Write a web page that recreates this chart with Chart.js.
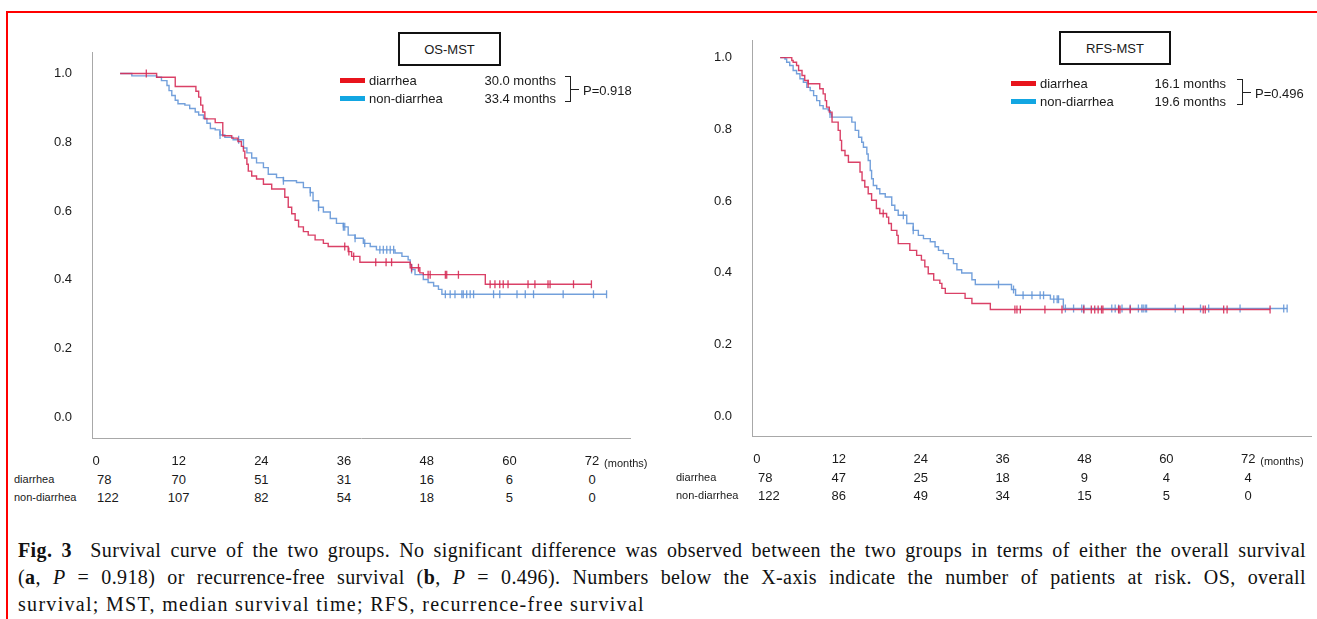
<!DOCTYPE html>
<html>
<head>
<meta charset="utf-8">
<script src="https://cdn.jsdelivr.net/npm/chart.js@4.4.1/dist/chart.umd.min.js"></script>
<style>
  html, body { margin: 0; padding: 0; background: #fff; }
  body { width: 1317px; height: 619px; position: relative; overflow: hidden; font-family: "Liberation Sans", Arial, sans-serif; color: #1a1a1a; }
  #frame { position: absolute; left: 6px; top: 11px; width: 1400px; height: 700px; border: 2px solid #ff0000; box-sizing: border-box; }
  canvas { position: absolute; }
  #os { left: 20px; top: 25px; }
  #rfs { left: 680px; top: 13px; }
  .t { position: absolute; white-space: nowrap; }
  .box { position: absolute; border: 2px solid #111; box-sizing: border-box; font-size: 13px; display: flex; align-items: center; justify-content: center; background: #fff; }
  .sw { position: absolute; height: 5px; width: 25px; }
  .br { position: absolute; width: 6px; border: 1px solid #222; border-left: none; box-sizing: border-box; }
  .brt { position: absolute; height: 1px; width: 8px; background: #222; }
  #caption { position: absolute; left: 18px; top: 537px; width: 1288px; font-family: "Liberation Serif", "Times New Roman", serif; font-size: 20px; line-height: 27px; color: #111; }
  #caption div { text-align: justify; text-align-last: justify; white-space: nowrap; letter-spacing: 0.4px; }
  #caption div.last { text-align-last: left; letter-spacing: 1.3px; }
</style>
</head>
<body>
<div id="frame"></div>
<canvas id="os" width="630" height="445"></canvas>
<canvas id="rfs" width="637" height="455"></canvas>
<div id="caption">
  <div><b>Fig. 3</b>&nbsp; Survival curve of the two groups. No significant difference was observed between the two groups in terms of either the overall survival</div>
  <div>(<b>a</b>, <i>P</i> = 0.918) or recurrence-free survival (<b>b</b>, <i>P</i> = 0.496). Numbers below the X-axis indicate the number of patients at risk. OS, overall</div>
  <div class="last">survival; MST, median survival time; RFS, recurrence-free survival</div>
</div>
<script>
// ---- data ----
const MONTH_TICKS = [0, 12, 24, 36, 48, 60, 72];
const SURV_TICKS = [0, 0.2, 0.4, 0.6, 0.8, 1.0];
const GROUPS = ['diarrhea', 'non-diarrhea'];

// overall survival (a)
const OS_RED_T = [3.5, 8.8, 11.5, 14.5, 14.9, 15.2, 15.5, 15.8, 17.3, 18.4, 19.7, 20.6, 21.1, 21.4, 21.6, 21.9, 22.1, 22.6, 23.3, 24.3, 25.5, 27.4, 27.9, 28.4, 28.9, 29.4, 30.1, 30.8, 31.8, 33.0, 33.7, 36.6, 37.1, 38.3, 45.6, 47.0, 47.5, 56.5, 71.9];
const OS_RED_S = [1.0, 0.989, 0.962, 0.948, 0.931, 0.908, 0.888, 0.868, 0.857, 0.819, 0.812, 0.802, 0.788, 0.774, 0.754, 0.736, 0.716, 0.702, 0.693, 0.678, 0.664, 0.640, 0.611, 0.592, 0.573, 0.554, 0.540, 0.530, 0.516, 0.506, 0.497, 0.482, 0.468, 0.451, 0.435, 0.420, 0.415, 0.387, 0.387];
const OS_RED_CENS = [7.3, 36.1, 36.7, 37.4, 40.6, 42.1, 42.9, 45.8, 46.8, 48.2, 48.5, 50.7, 50.9, 52.6, 57.2, 57.9, 58.6, 59.1, 59.8, 62.7, 63.7, 65.6, 65.9, 69.3, 71.9];
const OS_BLUE_T = [3.5, 5.2, 8.8, 9.5, 10.3, 10.6, 11.0, 11.5, 11.9, 12.9, 13.6, 14.4, 14.9, 15.6, 16.1, 16.6, 17.3, 18.0, 18.7, 19.9, 21.4, 21.9, 22.6, 23.3, 24.3, 25.0, 26.2, 27.2, 29.1, 30.1, 31.1, 31.5, 32.3, 33.0, 34.0, 34.9, 35.9, 36.6, 37.6, 38.8, 39.8, 40.7, 43.4, 44.4, 45.3, 45.6, 45.8, 46.3, 47.5, 48.2, 49.0, 49.7, 50.2, 74.1];
const OS_BLUE_S = [1.0, 0.993, 0.989, 0.979, 0.965, 0.950, 0.936, 0.922, 0.912, 0.908, 0.898, 0.888, 0.879, 0.869, 0.855, 0.840, 0.836, 0.821, 0.814, 0.807, 0.783, 0.769, 0.754, 0.740, 0.726, 0.707, 0.697, 0.688, 0.683, 0.668, 0.654, 0.630, 0.611, 0.597, 0.578, 0.564, 0.554, 0.530, 0.521, 0.506, 0.497, 0.487, 0.478, 0.468, 0.458, 0.444, 0.430, 0.415, 0.401, 0.392, 0.382, 0.372, 0.358, 0.358];
const OS_BLUE_CENS = [18.0, 20.7, 27.2, 31.1, 32.3, 35.9, 36.1, 37.6, 39.0, 41.2, 41.7, 42.2, 42.7, 43.2, 45.8, 50.7, 51.4, 52.1, 53.1, 53.3, 53.8, 54.3, 54.8, 57.7, 58.6, 61.1, 62.3, 63.5, 67.8, 72.2, 74.1];
const OS_RISK_RED = [78, 70, 51, 31, 16, 6, 0];
const OS_RISK_BLUE = [122, 107, 82, 54, 18, 5, 0];

// recurrence-free survival (b)
const RFS_RED_T = [3.4, 5.1, 5.3, 5.8, 6.1, 6.6, 7.0, 7.5, 9.2, 9.7, 10.0, 10.2, 10.6, 11.0, 11.9, 12.2, 12.4, 12.9, 13.4, 15.1, 15.4, 15.8, 16.3, 16.8, 17.5, 18.0, 19.0, 19.3, 19.7, 20.5, 20.7, 22.4, 23.4, 24.1, 24.6, 25.1, 25.9, 26.8, 27.1, 27.6, 30.5, 31.5, 34.2, 75.2];
const RFS_RED_S = [1.0, 0.992, 0.987, 0.978, 0.964, 0.950, 0.936, 0.927, 0.913, 0.899, 0.880, 0.862, 0.848, 0.820, 0.797, 0.769, 0.741, 0.727, 0.708, 0.681, 0.657, 0.639, 0.620, 0.602, 0.579, 0.565, 0.555, 0.537, 0.518, 0.504, 0.481, 0.462, 0.448, 0.435, 0.416, 0.397, 0.379, 0.370, 0.356, 0.342, 0.328, 0.314, 0.297, 0.297];
const RFS_RED_CENS = [7.5, 18.5, 37.8, 38.1, 38.6, 42.2, 44.7, 47.9, 49.0, 49.5, 50.0, 50.5, 50.7, 53.0, 53.2, 54.7, 62.5, 65.4, 65.7, 68.4, 68.9, 75.2];
const RFS_BLUE_T = [3.4, 4.1, 4.35, 4.8, 5.3, 5.8, 6.3, 6.8, 7.3, 7.8, 8.3, 8.75, 9.2, 9.7, 10.45, 10.7, 10.95, 13.9, 14.4, 14.9, 15.35, 15.6, 16.1, 16.3, 16.6, 16.8, 17.05, 17.55, 18.0, 18.8, 19.75, 20.2, 20.7, 21.95, 22.9, 23.65, 24.4, 25.4, 26.1, 26.6, 27.3, 28.05, 28.8, 29.3, 30.0, 31.5, 32.0, 37.3, 37.9, 43.0, 44.9, 77.7];
const RFS_BLUE_S = [1.0, 0.996, 0.987, 0.978, 0.964, 0.955, 0.941, 0.931, 0.917, 0.908, 0.894, 0.880, 0.866, 0.857, 0.852, 0.843, 0.834, 0.820, 0.797, 0.778, 0.764, 0.750, 0.731, 0.713, 0.685, 0.662, 0.643, 0.634, 0.620, 0.611, 0.588, 0.574, 0.560, 0.537, 0.518, 0.504, 0.495, 0.486, 0.472, 0.462, 0.453, 0.439, 0.425, 0.408, 0.399, 0.380, 0.367, 0.353, 0.337, 0.326, 0.300, 0.300];
const RFS_BLUE_CENS = [10.7, 21.45, 22.9, 35.4, 37.6, 39.0, 40.3, 41.5, 42.0, 43.5, 44.0, 44.2, 45.2, 46.4, 47.6, 47.9, 52.0, 52.5, 53.0, 53.5, 54.7, 55.9, 56.4, 56.6, 56.9, 57.1, 61.3, 65.0, 66.2, 70.8, 77.2, 77.7];
const RFS_RISK_RED = [78, 47, 25, 18, 9, 4, 4];
const RFS_RISK_BLUE = [122, 86, 49, 34, 15, 5, 0];

const RED = 'rgba(214, 44, 86, 0.9)';
const BLUE = 'rgba(100, 150, 215, 0.9)';
const TXT = '#1a1a1a';
const FONT = '"Liberation Sans", Arial, sans-serif';

// survival level of a step curve at time x
function levelAt(t, s, x) {
  let v = s[0];
  for (let i = 0; i < t.length; i++) if (t[i] <= x) v = s[i];
  return v;
}

function txt(x, y, str, size, align) {
  const d = document.createElement('div');
  d.className = 't';
  d.textContent = str;
  d.style.fontSize = size + 'px';
  d.style.lineHeight = size + 'px';
  d.style.top = (y - size / 2) + 'px';
  if (align === 'center') { d.style.left = x + 'px'; d.style.transform = 'translateX(-50%)'; }
  else if (align === 'right') { d.style.right = (1317 - x) + 'px'; }
  else d.style.left = x + 'px';
  document.body.appendChild(d);
  return d;
}

function el(cls, css) {
  const d = document.createElement('div');
  d.className = cls;
  Object.assign(d.style, css);
  document.body.appendChild(d);
  return d;
}

function kmChart(id, o) {
  // each point is (event time, survival after it): horizontal first, then drop
  const curve = (t, s, color) => ({
    data: t.map((x, i) => ({ x: x, y: s[i] })),
    stepped: 'before', borderColor: color, borderWidth: 1.4, pointRadius: 0, fill: false
  });
  const marks = (c, t, s, color) => ({
    data: c.map(x => ({ x: x, y: levelAt(t, s, x) })),
    showLine: false, pointStyle: 'line', rotation: 90, pointRadius: 4,
    borderColor: color, borderWidth: 1.3
  });
  return new Chart(document.getElementById(id), {
    type: 'line',
    data: {
      datasets: [
        marks(o.redC, o.redT, o.redS, RED),
        curve(o.redT, o.redS, RED),
        marks(o.blueC, o.blueT, o.blueS, BLUE),
        curve(o.blueT, o.blueS, BLUE)
      ]
    },
    options: {
      responsive: false,
      animation: false,
      layout: { padding: { top: 12, right: o.padRight, left: 0, bottom: 0 } },
      plugins: { legend: { display: false }, tooltip: { enabled: false } },
      scales: {
        x: {
          type: 'linear', min: o.xmin, max: o.xmax,
          grid: { display: false, drawTicks: false },
          border: { color: '#a8a8a8', width: 1 },
          afterBuildTicks: s => { s.ticks = MONTH_TICKS.map(v => ({ value: v })); },
          afterFit: s => { s.height = 32; },
          ticks: { padding: 16, color: TXT, font: { family: FONT, size: 13 }, maxRotation: 0, autoSkip: false }
        },
        y: {
          type: 'linear', min: o.ymin, max: o.ymax,
          grid: { display: false, drawTicks: false },
          border: { color: '#a8a8a8', width: 1 },
          afterBuildTicks: s => { s.ticks = SURV_TICKS.map(v => ({ value: v })); },
          afterFit: s => { s.width = 72; },
          ticks: { padding: 20, color: TXT, font: { family: FONT, size: 13 }, callback: v => v.toFixed(1) }
        }
      }
    }
  });
}

const osChart = kmChart('os', {
  redT: OS_RED_T, redS: OS_RED_S, redC: OS_RED_CENS,
  blueT: OS_BLUE_T, blueS: OS_BLUE_S, blueC: OS_BLUE_CENS,
  xmin: -0.58, xmax: 77.5, ymin: -0.06, ymax: 1.06, padRight: 20
});
const rfsChart = kmChart('rfs', {
  redT: RFS_RED_T, redS: RFS_RED_S, redC: RFS_RED_CENS,
  blueT: RFS_BLUE_T, blueS: RFS_BLUE_S, blueC: RFS_BLUE_CENS,
  xmin: -0.73, xmax: 81.3, ymin: -0.056, ymax: 1.047, padRight: 0
});

// numbers at risk, placed under the month ticks
function riskTable(chart, offX, labelX, rowY, red, blue) {
  const xs = chart.scales.x;
  txt(labelX, rowY[0], GROUPS[0], 11, 'left');
  txt(labelX, rowY[1], GROUPS[1], 11, 'left');
  MONTH_TICKS.forEach((m, i) => {
    const px = offX + xs.getPixelForValue(m);
    if (i === 0) {
      txt(px + 1, rowY[0], String(red[i]), 13, 'left');
      txt(px + 1, rowY[1], String(blue[i]), 13, 'left');
    } else {
      txt(px, rowY[0], String(red[i]), 13, 'center');
      txt(px, rowY[1], String(blue[i]), 13, 'center');
    }
  });
  const p72 = offX + xs.getPixelForValue(72);
  txt(p72 + 12, rowY[0] - 16, '(months)', 11, 'left');
}
riskTable(osChart, 20, 14, [479, 497], OS_RISK_RED, OS_RISK_BLUE);
riskTable(rfsChart, 680, 676, [477, 495], RFS_RISK_RED, RFS_RISK_BLUE);

// legends
function legend(o) {
  const b = el('box', { left: o.boxX + 'px', top: o.boxY + 'px', width: o.boxW + 'px', height: '34px' });
  b.textContent = o.title;
  el('sw', { left: o.swX + 'px', top: (o.y1 - 2) + 'px', background: '#e8141c' });
  el('sw', { left: o.swX + 'px', top: (o.y2 - 2) + 'px', background: '#12a6e2' });
  txt(o.swX + 29, o.y1, GROUPS[0], 13, 'left');
  txt(o.swX + 29, o.y2, GROUPS[1], 13, 'left');
  txt(o.mstR, o.y1, o.mst[0], 13, 'right');
  txt(o.mstR, o.y2, o.mst[1], 13, 'right');
  el('br', { left: o.brX + 'px', top: (o.y1 - 4) + 'px', height: (o.y2 - o.y1 + 8) + 'px' });
  el('brt', { left: (o.brX + 6) + 'px', top: Math.round((o.y1 + o.y2) / 2) + 'px' });
  txt(o.brX + 18, (o.y1 + o.y2) / 2 + 1, o.p, 13, 'left');
}
legend({ title: 'OS-MST', boxX: 398, boxY: 32, boxW: 103, swX: 340, y1: 80, y2: 98,
  mst: ['30.0 months', '33.4 months'], mstR: 556, brX: 565, p: 'P=0.918' });
legend({ title: 'RFS-MST', boxX: 1059, boxY: 31, boxW: 112, swX: 1011, y1: 83, y2: 101,
  mst: ['16.1 months', '19.6 months'], mstR: 1226, brX: 1237, p: 'P=0.496' });

// keep the caption lines on one line each
document.querySelectorAll('#caption div').forEach(d => {
  let ls = parseFloat(getComputedStyle(d).letterSpacing) || 0;
  while (d.scrollWidth > 1288 && ls > -1) { ls -= 0.1; d.style.letterSpacing = ls + 'px'; }
});
</script>
</body>
</html>
